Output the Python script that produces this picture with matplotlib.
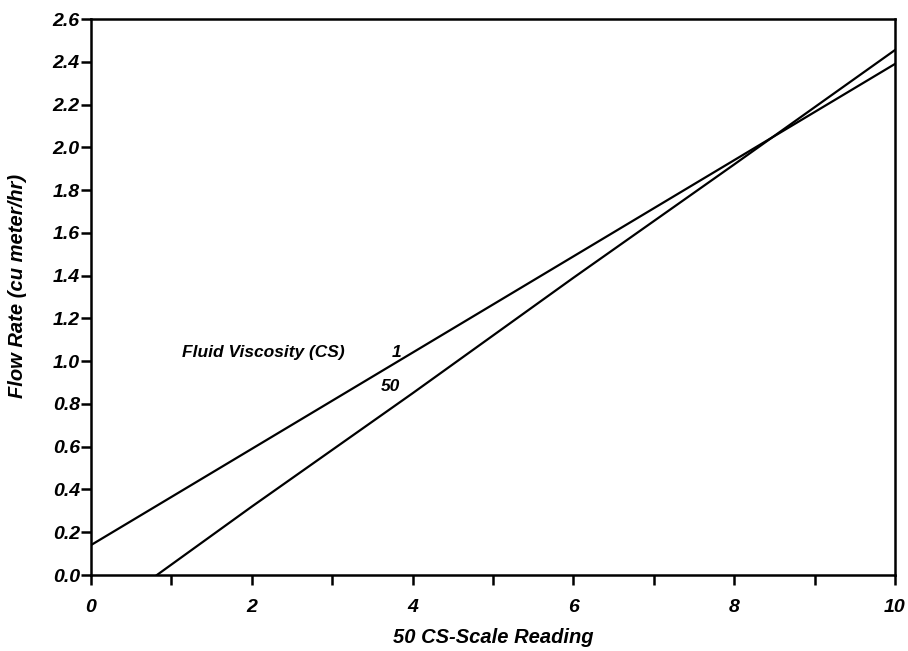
import matplotlib
matplotlib.use("Agg")
import matplotlib.pyplot as plt
from matplotlib.ticker import MultipleLocator, FormatStrFormatter

# Data
x_cs1 = [0, 2, 4, 6, 8, 10]
y_cs1 = [0.14, 0.59, 1.04, 1.49, 1.94, 2.39]
x_cs50 = [0.82, 2, 4, 6, 8, 10]
y_cs50 = [0.0, 0.32, 0.85, 1.39, 1.92, 2.455]

xlabel = "50 CS-Scale Reading"
ylabel = "Flow Rate (cu meter/hr)"
annot_title = "Fluid Viscosity (CS)"
series_labels = ["1", "50"]

font = dict(family="Liberation Sans", style="italic", fontweight="bold")

fig = plt.figure(figsize=(9.08, 6.51), dpi=100)
ax = fig.add_axes([0.1002, 0.1167, 0.8855, 0.8541])

ax.plot(x_cs1, y_cs1, color="black", lw=1.6)
ax.plot(x_cs50, y_cs50, color="black", lw=1.6)

ax.set_xlim(0, 10)
ax.set_ylim(0, 2.6)
ax.xaxis.set_major_locator(MultipleLocator(2))
ax.xaxis.set_minor_locator(MultipleLocator(1))
ax.yaxis.set_major_locator(MultipleLocator(0.2))
ax.yaxis.set_major_formatter(FormatStrFormatter("%.1f"))
ax.xaxis.set_major_formatter(FormatStrFormatter("%d"))

ax.tick_params(axis="both", which="both", direction="out", width=1.8, color="black")
ax.tick_params(axis="x", which="major", length=7, pad=10)
ax.tick_params(axis="x", which="minor", length=7)
ax.tick_params(axis="y", which="major", length=7, pad=1)
for s in ax.spines.values():
    s.set_linewidth(1.8)

for lab in ax.get_xticklabels() + ax.get_yticklabels():
    lab.set_fontfamily("Liberation Sans")
    lab.set_fontstyle("italic")
    lab.set_fontweight("bold")
    lab.set_fontsize(14)

ax.set_xlabel(xlabel, fontsize=14.5, va="center", **font)
ax.xaxis.set_label_coords(0.5, -0.113)
ax.set_ylabel(ylabel, fontsize=14.5, va="center", **font)
ax.yaxis.set_label_coords(-0.091, 0.52)

ax.text(1.13, 1.04, annot_title, fontsize=12.5, va="center", ha="left", **font)
ax.text(3.80, 1.04, series_labels[0], fontsize=12.5, va="center", ha="center", **font)
ax.text(3.72, 0.88, series_labels[1], fontsize=12.5, va="center", ha="center", **font)

fig.savefig("out.png", dpi=100, facecolor="white")
